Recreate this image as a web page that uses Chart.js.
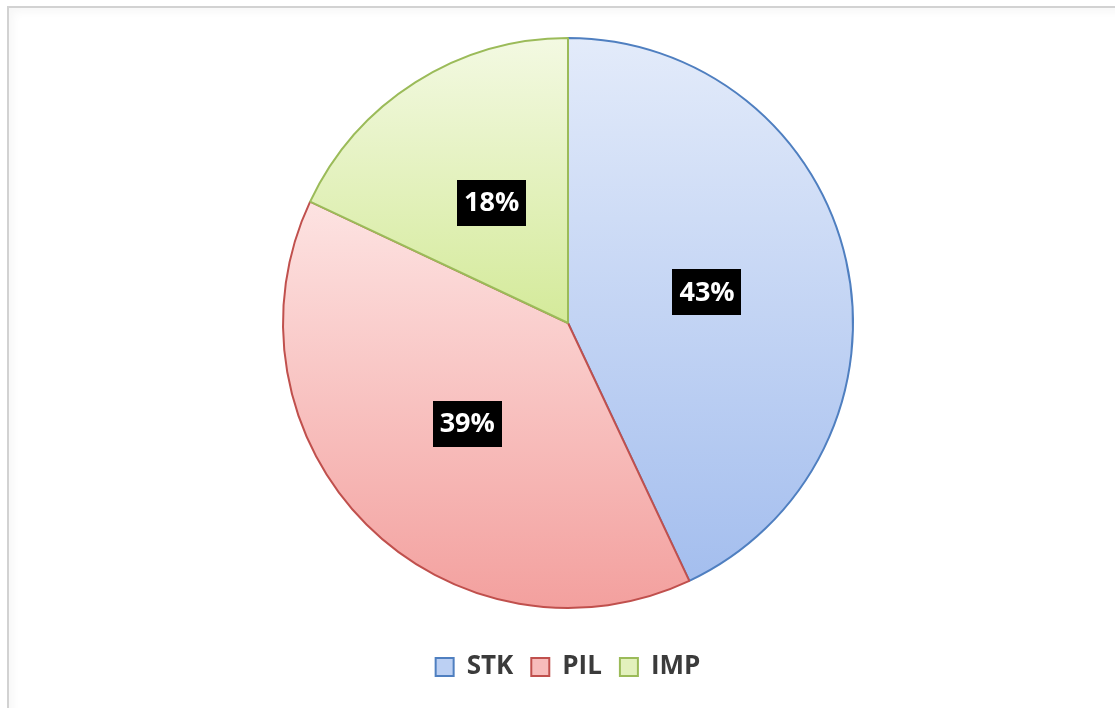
<!DOCTYPE html>
<html><head><meta charset="utf-8">
<script src="https://cdn.jsdelivr.net/npm/chart.js@4/dist/chart.umd.min.js"></script>
<style>
html,body{margin:0;padding:0;background:#fff;}
#wrap{position:relative;width:1115px;height:708px;overflow:hidden;background:#fff;}
#frame{position:absolute;left:7px;top:6px;right:-10px;bottom:-10px;border-top:2px solid #d2d2d2;border-left:2px solid #d2d2d2;box-shadow:inset 4px 4px 8px rgba(0,0,0,0.035);}
canvas{position:absolute;left:0;top:0;}
</style></head>
<body><div id="wrap"><div id="frame"></div><canvas id="c" width="1115" height="708"></canvas></div>
<script>
const categories = ['STK', 'PIL', 'IMP'];
const values = [43, 39, 18];
const fillTop = ['#e3ebfa', '#fde3e2', '#f3f9e2'];
const fillBottom = ['#a4beee', '#f3a09e', '#d4ea9a'];
const legendFill = ['#bcd0f3', '#f7bcbb', '#e3f1bd'];
const borderColors = ['#4f7fc0', '#c0504d', '#9bbb59'];
const RADIUS = 285;

function sliceGradient(ctx) {
  const chart = ctx.chart;
  const area = chart.chartArea;
  const i = ctx.dataIndex;
  if (!area) return fillBottom[i];
  const cx = (area.left + area.right) / 2, cy = (area.top + area.bottom) / 2;
  const total = values.reduce((a, b) => a + b, 0);
  const start = values.slice(0, i).reduce((a, b) => a + b, 0) / total * 2 * Math.PI;
  const end = start + values[i] / total * 2 * Math.PI;
  const ys = [cy, cy - RADIUS * Math.cos(start), cy - RADIUS * Math.cos(end)];
  if (start <= 0 && end >= 0) ys.push(cy - RADIUS);
  if (start <= Math.PI && end >= Math.PI) ys.push(cy + RADIUS);
  const g = chart.ctx.createLinearGradient(0, Math.min(...ys), 0, Math.max(...ys));
  g.addColorStop(0, fillTop[i]);
  g.addColorStop(1, fillBottom[i]);
  return g;
}

const labelPlugin = {
  id: 'pctLabels',
  afterDatasetsDraw(chart) {
    const meta = chart.getDatasetMeta(0);
    const c = chart.ctx;
    c.save();
    c.font = 'bold 27px "Open Sans"';
    c.textAlign = 'center';
    c.textBaseline = 'middle';
    meta.data.forEach((arc, i) => {
      const p = arc.tooltipPosition(true);
      const t = values[i] + '%';
      const w = c.measureText(t).width + 14;
      const h = 46;
      c.fillStyle = '#000';
      c.fillRect(Math.round(p.x - w / 2), Math.round(p.y - h / 2), Math.round(w), h);
      c.fillStyle = '#fff';
      c.fillText(t, p.x, p.y + 1);
    });
    c.restore();
  }
};

new Chart(document.getElementById('c'), {
  type: 'pie',
  data: {
    labels: categories,
    datasets: [{
      data: values,
      backgroundColor: sliceGradient,
      borderColor: borderColors,
      borderWidth: 2,
      radius: RADIUS
    }]
  },
  options: {
    responsive: false,
    animation: false,
    devicePixelRatio: 1,
    layout: { padding: { top: 10, bottom: 18, left: 21, right: 0 } },
    plugins: {
      tooltip: { enabled: false },
      legend: {
        position: 'bottom',
        labels: {
          font: { family: 'Open Sans', size: 26, weight: 'bold' },
          color: '#3b3b3b',
          boxWidth: 18,
          boxHeight: 18,
          padding: 18,
          generateLabels(chart) {
            return categories.map((l, i) => ({
              text: l,
              fillStyle: legendFill[i],
              strokeStyle: borderColors[i],
              lineWidth: 2,
              hidden: false,
              index: i,
              fontColor: '#3b3b3b'
            }));
          }
        }
      }
    }
  },
  plugins: [labelPlugin]
});
</script>
</body></html>
